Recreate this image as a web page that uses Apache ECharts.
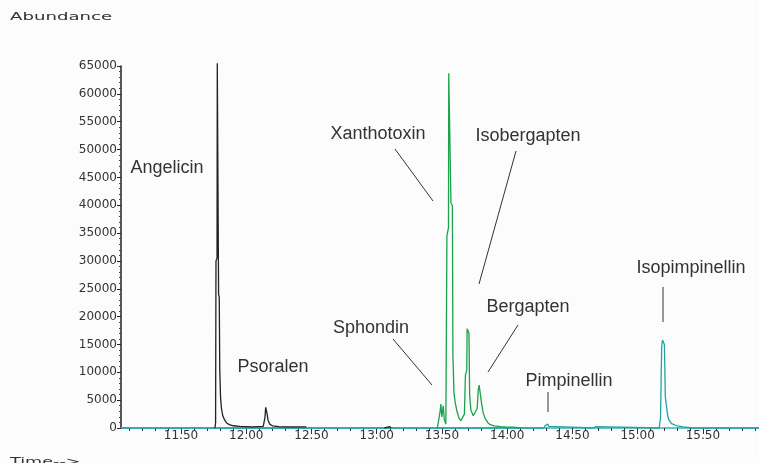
<!DOCTYPE html>
<html>
<head>
<meta charset="utf-8">
<script src="https://cdn.jsdelivr.net/npm/echarts@6/dist/echarts.min.js"></script>
<style>
  html, body { margin: 0; padding: 0; background: #fcfcfc; }
  #chart { width: 759px; height: 463px; }
</style>
</head>
<body>
<div id="chart"></div>
<script>
// retention time (min), abundance
const blackTrace = [
  [11.760, 0], [11.765, 900], [11.768, 30000], [11.776, 30500], [11.778, 65500],
  [11.784, 65500], [11.788, 24000], [11.793, 23500], [11.797, 10500], [11.803, 5500],
  [11.810, 3500], [11.820, 2200], [11.835, 1400], [11.850, 900], [11.870, 600],
  [11.900, 400], [11.950, 300], [12.000, 250], [12.050, 200], [12.080, 250],
  [12.130, 300], [12.143, 1800], [12.149, 3700], [12.154, 3600], [12.160, 2500],
  [12.167, 1400], [12.180, 700], [12.200, 400], [12.250, 250], [12.300, 200],
  [12.400, 200], [12.460, 200]
];
const blackBlip = [[13.060, 0], [13.070, 250], [13.100, 250], [13.110, 0]];
const greenTrace = [
  [13.465, 0], [13.477, 300], [13.486, 3000], [13.492, 4300], [13.499, 2000],
  [13.504, 2200], [13.510, 4000], [13.518, 1500], [13.530, 700], [13.538, 34500],
  [13.550, 36000], [13.552, 63700], [13.565, 63500], [13.569, 40400], [13.580, 40000],
  [13.584, 13000], [13.592, 6300], [13.602, 4500], [13.615, 3000], [13.630, 1800],
  [13.645, 1300], [13.660, 1500], [13.672, 2500], [13.680, 9500], [13.690, 10400],
  [13.693, 17800], [13.703, 17500], [13.707, 17000], [13.712, 6000], [13.722, 3200],
  [13.740, 2200], [13.755, 2200], [13.770, 3500], [13.778, 6800], [13.785, 7700],
  [13.795, 7400], [13.803, 4500], [13.815, 2800], [13.830, 1800], [13.850, 1000],
  [13.870, 600], [13.900, 400], [13.950, 250], [14.000, 150], [14.050, 150],
  [14.100, 0]
];
const tealTrace = [
  [11.040, 0], [14.280, 0], [14.290, 400], [14.300, 700], [14.310, 700], [14.320, 300],
  [14.330, 0], [14.660, 0], [14.670, 250], [14.680, 250], [14.690, 0], [15.165, 0],
  [15.175, 1800], [15.182, 2000], [15.184, 14500], [15.190, 15800], [15.196, 15600],
  [15.205, 15000], [15.212, 5600], [15.222, 5400], [15.230, 2200], [15.240, 1400],
  [15.260, 800], [15.300, 400], [15.350, 200], [15.420, 0], [15.930, 0]
];
const majorTicks = [11.5, 12.0, 12.5, 13.0, 13.5, 14.0, 14.5, 15.0, 15.5];
const minorTicks = [
  11.1, 11.2, 11.3, 11.4, 11.6, 11.7, 11.8, 11.9, 12.1, 12.2, 12.3, 12.4,
  12.6, 12.7, 12.8, 12.9, 13.1, 13.2, 13.3, 13.4, 13.6, 13.7, 13.8, 13.9,
  14.1, 14.2, 14.3, 14.4, 14.6, 14.7, 14.8, 14.9, 15.1, 15.2, 15.3, 15.4,
  15.6, 15.7, 15.8, 15.9
];

const chart = echarts.init(document.getElementById("chart"));

const labelFont = { fontFamily: "Liberation Sans", fontSize: 18, fill: "#333" };
const leader = { stroke: "#333", lineWidth: 1 };

function label(text, x, y) {
  return {
    type: "text", x: x, y: y,
    style: Object.assign({ text: text, textAlign: "center", textVerticalAlign: "middle" }, labelFont)
  };
}
function line(x1, y1, x2, y2) {
  return { type: "line", shape: { x1: x1, y1: y1, x2: x2, y2: y2 }, style: leader };
}

const options = {
  backgroundColor: "#fcfcfc",
  animation: false,
  grid: { left: 121, right: 0, top: 66, bottom: 35 },
  xAxis: [
    {
      type: "value",
      min: 11.04,
      max: 15.93,
      axisLine: { lineStyle: { color: "#3fb0b0", width: 1.5 } },
      axisTick: { customValues: majorTicks, length: 6, lineStyle: { color: "#333" } },
      axisLabel: {
        customValues: majorTicks,
        formatter: (v) => v.toFixed(2),
        fontFamily: "DejaVu Sans",
        fontSize: 12,
        color: "#333",
        margin: 2
      },
      splitLine: { show: false }
    },
    {
      type: "value",
      position: "bottom",
      min: 11.04,
      max: 15.93,
      axisLine: { show: false },
      axisTick: { customValues: minorTicks, length: 3, lineStyle: { color: "#333" } },
      axisLabel: { show: false },
      splitLine: { show: false }
    }
  ],
  yAxis: {
    type: "value",
    min: 0,
    max: 65000,
    interval: 5000,
    axisLine: { show: true, lineStyle: { color: "#222", width: 1.5 } },
    axisTick: { show: true, length: 4, lineStyle: { color: "#222" } },
    minorTick: { show: true, splitNumber: 5, length: 2, lineStyle: { color: "#444" } },
    axisLabel: {
      formatter: (v) => String(v),
      fontFamily: "DejaVu Sans",
      fontSize: 12,
      color: "#333",
      margin: 4
    },
    splitLine: { show: false }
  },
  series: [
    {
      type: "line", data: tealTrace, showSymbol: false, clip: false, z: 2,
      lineStyle: { color: "#22a3a3", width: 1.3 }
    },
    {
      type: "line", data: greenTrace, showSymbol: false, clip: false, z: 3,
      lineStyle: { color: "#1aa34a", width: 1.3 }
    },
    {
      type: "line", data: blackTrace, showSymbol: false, clip: false, z: 4,
      lineStyle: { color: "#222", width: 1.3 }
    },
    {
      type: "line", data: blackBlip, showSymbol: false, clip: false, z: 4,
      lineStyle: { color: "#222", width: 1.3 }
    }
  ],
  graphic: [
    {
      type: "text", x: 10, y: 17, scaleX: 1.65,
      style: { text: "Abundance", fontFamily: "DejaVu Sans", fontSize: 11, fill: "#333", textVerticalAlign: "middle" }
    },
    {
      type: "text", x: 10, y: 462, scaleX: 1.6,
      style: { text: "Time-->", fontFamily: "DejaVu Sans", fontSize: 11, fill: "#333", textVerticalAlign: "middle" }
    },
    label("Angelicin", 167, 168),
    label("Psoralen", 273, 367),
    label("Xanthotoxin", 378, 134),
    label("Isobergapten", 528, 136),
    label("Sphondin", 371, 328),
    label("Bergapten", 528, 307),
    label("Pimpinellin", 569, 381),
    label("Isopimpinellin", 691, 268),
    line(395, 149, 433, 201),
    line(516, 151, 479, 284),
    line(393, 339, 432, 385),
    line(518, 325, 488, 372),
    line(548, 392, 548, 412),
    line(663, 287, 663, 322)
  ]
};

chart.setOption(options);
</script>
</body>
</html>
